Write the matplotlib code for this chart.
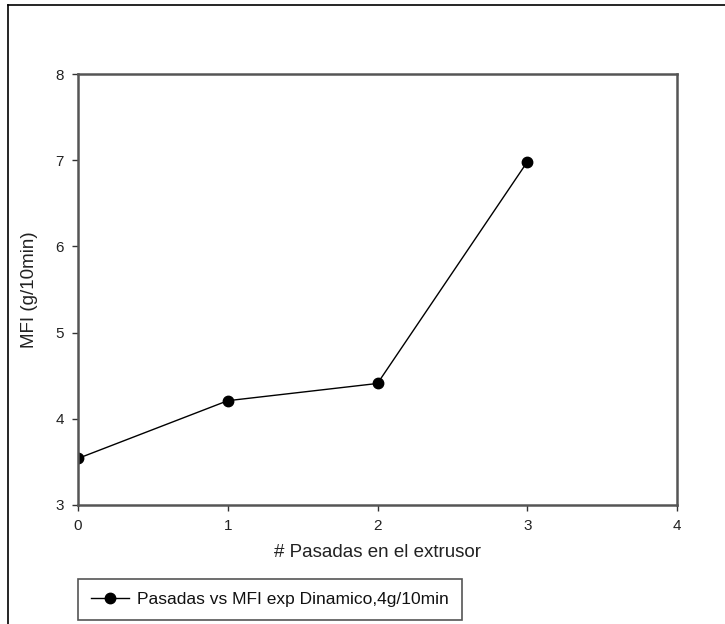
import matplotlib.pyplot as plt
from matplotlib.lines import Line2D

plt.rcParams['font.family'] = ['Liberation Sans', 'DejaVu Sans']

# passes through the extruder vs melt flow index
pasadas = [0, 1, 2, 3]
mfi = [3.54, 4.21, 4.41, 6.98]
x_ticks = [0, 1, 2, 3, 4]
y_ticks = [3, 4, 5, 6, 7, 8]
serie = 'Pasadas vs MFI exp Dinamico,4g/10min'

fig = plt.figure(figsize=(7.25, 6.24), dpi=100)
ax = fig.add_axes([78 / 725, 1 - 505 / 624, 599 / 725, 431 / 624])

gris = '#555555'
ax.plot(pasadas, mfi, color='black', lw=1.0, marker='o', markersize=7.5,
        markerfacecolor='black', markeredgecolor='black', label=serie)

ax.set_xlim(0, 4)
ax.set_ylim(3, 8)
ax.set_xticks(x_ticks)
ax.set_yticks(y_ticks)
for s in ax.spines.values():
    s.set_color(gris)
    s.set_linewidth(1.8)
ax.tick_params(direction='out', length=4, width=1, color='#333333',
               labelsize=11, labelcolor='#222222', pad=6)

ax.set_xlabel('# Pasadas en el extrusor', fontsize=13.5, color='#222222', labelpad=8)
ax.set_ylabel('MFI (g/10min)', fontsize=13.5, color='#222222', labelpad=13)

leg = fig.legend(handles=[Line2D([], [], color='black', lw=1.0, marker='o',
                                 markersize=7.5)],
                 labels=[serie], loc='upper left',
                 bbox_to_anchor=(78 / 725, 1 - 579 / 624),
                 borderaxespad=0, fancybox=False, edgecolor=gris,
                 fontsize=12.5, handlelength=2.2, handletextpad=0.45,
                 borderpad=0.75, framealpha=1)
leg.get_frame().set_linewidth(1.2)
for t in leg.get_texts():
    t.set_color('#111111')

# outer frame (left and top edges)
fig.add_artist(Line2D([8 / 725, 8 / 725], [0, 1 - 5 / 624],
                      transform=fig.transFigure, color='black', lw=1.2))
fig.add_artist(Line2D([8 / 725, 1], [1 - 5 / 624, 1 - 5 / 624],
                      transform=fig.transFigure, color='black', lw=1.2))

fig.savefig('out.png', dpi=100)
